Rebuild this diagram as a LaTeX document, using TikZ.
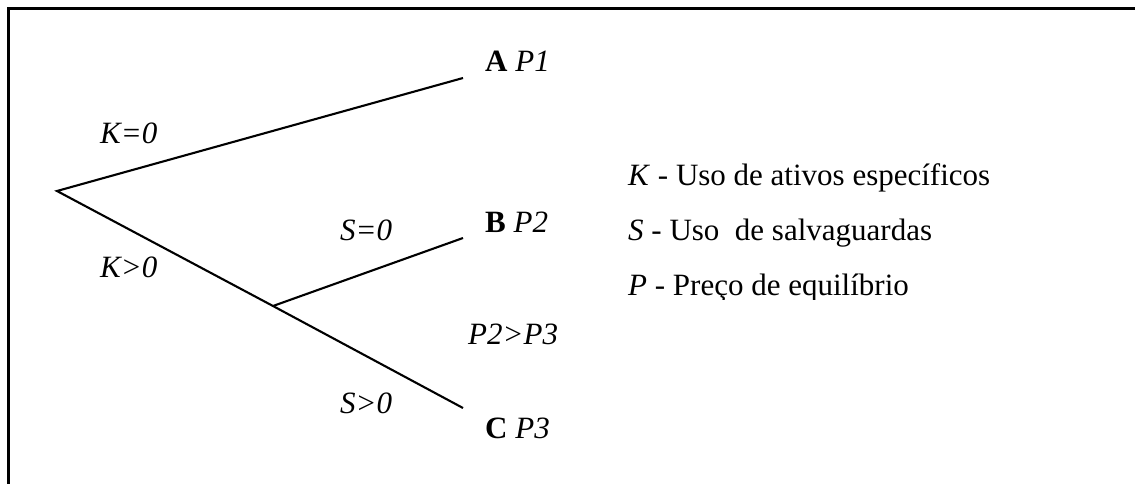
\documentclass[tikz,border=0pt]{standalone}
\usepackage{fontspec}
\setmainfont{Liberation Serif}
\begin{document}
\begin{tikzpicture}[x=1pt,y=-1pt,
  branch/.style={line width=2.1pt},
  lbl/.style={anchor=base west,inner sep=0pt,font=\fontsize{31}{36}\selectfont}]
\useasboundingbox (0,0) rectangle (1135,484);
\draw[line width=2.2pt] (8.5,484) -- (8.5,8.5) -- (1135,8.5);
\coordinate (root) at (57,191);
\coordinate (br) at (273,306);
\coordinate (a) at (463,78);
\coordinate (b) at (463,238);
\coordinate (c) at (463,408);
\draw[branch] (a) -- (root) -- (br) -- (c);
\draw[branch] (br) -- (b);
\node[lbl] (ta) at (485,72) {\textbf{A} \textit{P1}};
\node[lbl] (tb) at (485,232) {\textbf{B} \textit{P2}};
\node[lbl] (tc) at (485,438) {\textbf{C} \textit{P3}};
\node[lbl] (k0) at (100,144) {\textit{K=0}};
\node[lbl] (kp) at (100,277) {\textit{K>0}};
\node[lbl] (s0) at (340,240) {\textit{S=0}};
\node[lbl] (sp) at (340,413) {\textit{S>0}};
\node[lbl] (pp) at (468,344) {\textit{P2>P3}};
\node[lbl] (lk) at (628,185) {\textit{K} - Uso de ativos específicos};
\node[lbl] (ls) at (628,240) {\textit{S} - Uso\ \ de salvaguardas};
\begin{scope}
\clip (600,260) rectangle (1135,299);
\node[lbl] (lp) at (628,295) {\textit{P} - Preço de equilíbrio};
\end{scope}
\end{tikzpicture}
\end{document}
